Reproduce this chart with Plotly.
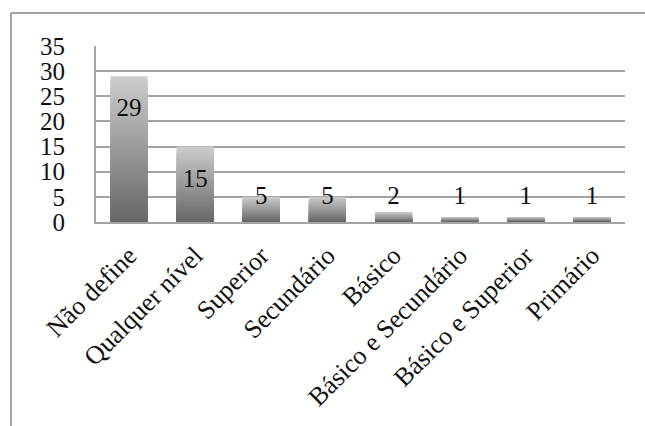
import plotly.graph_objects as go

categories = ["Não define", "Qualquer nível", "Superior", "Secundário", "Básico",
              "Básico e Secundário", "Básico e Superior", "Primário"]
values = [29, 15, 5, 5, 2, 1, 1, 1]
y_ticks = [0, 5, 10, 15, 20, 25, 30, 35]

W, H = 645, 426
L, R, T, B = 96, 20, 46, 204
pw, ph = W - L - R, H - T - B

FONT = "Liberation Serif"
GRID = "#a3a3a3"

fig = go.Figure()

# gradient bars: overlay of progressively shorter, darker bars
N = 40
light = (204, 204, 204)
dark = (104, 104, 104)
for k in range(N):
    f = 1 - k / N
    t = k / (N - 1)
    c = tuple(int(light[i] + (dark[i] - light[i]) * t) for i in range(3))
    fig.add_trace(go.Bar(
        x=categories, y=[v * f for v in values],
        marker=dict(color=f"rgb{c}", line=dict(width=0)),
        width=0.56, hoverinfo="skip", showlegend=False))

# value labels
label_y = [max(v - 6.7, 4.9) for v in values]
fig.add_trace(go.Scatter(
    x=categories, y=label_y, mode="text", text=[str(v) for v in values],
    textfont=dict(family=FONT, size=25, color="#111111"),
    hoverinfo="skip", showlegend=False))

# outer frame (partially cropped chart border)
x_left = (11 - L) / pw
y_top = (H - B - 13) / ph
fig.add_shape(type="line", xref="paper", yref="paper",
              x0=x_left, x1=(W - L) / pw + 0.05, y0=y_top, y1=y_top,
              line=dict(color=GRID, width=2))
fig.add_shape(type="line", xref="paper", yref="paper",
              x0=x_left, x1=x_left, y0=y_top, y1=(H - B - H - 5) / ph,
              line=dict(color=GRID, width=2))

fig.update_layout(
    width=W, height=H,
    margin=dict(l=L, r=R, t=T, b=B, autoexpand=False),
    paper_bgcolor="white", plot_bgcolor="white",
    barmode="overlay",
    font=dict(family=FONT, color="#111111"),
    xaxis=dict(
        tickangle=-45, tickfont=dict(family=FONT, size=26, color="#111111"),
        showline=True, linecolor=GRID, linewidth=2, showgrid=False,
        ticks="", ticklabelstandoff=6, fixedrange=True),
    yaxis=dict(
        range=[0, 35], tickvals=y_ticks, ticktext=[str(v) for v in y_ticks],
        tickfont=dict(family=FONT, size=25, color="#111111"),
        showgrid=True, gridcolor=GRID, gridwidth=2,
        showline=True, linecolor=GRID, linewidth=2,
        zeroline=False, ticks="outside", ticklen=24, tickcolor="rgba(0,0,0,0)",
        fixedrange=True),
)

fig.write_html("out.html")
